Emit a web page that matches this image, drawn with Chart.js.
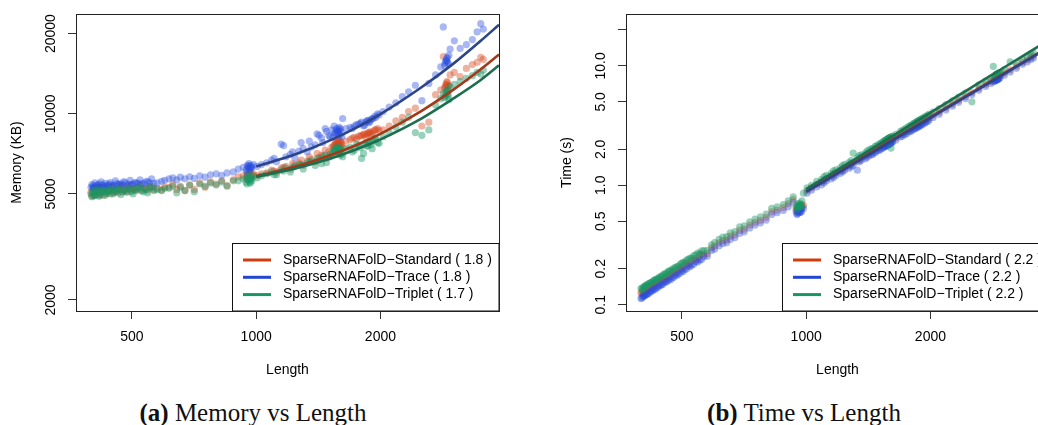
<!DOCTYPE html>
<html>
<head>
<meta charset="utf-8">
<title>Memory and Time vs Length</title>
<script src="https://cdn.jsdelivr.net/npm/chart.js@4.4.1/dist/chart.umd.min.js"></script>
<style>
    html, body { margin: 0; padding: 0; background: #fff; overflow: hidden; }
    body { width: 1038px; height: 425px; position: relative; }
    .panel { position: absolute; top: 0; }
    #memPanel { left: 0; }
    #timePanel { left: 520px; }
    .caption {
        position: absolute;
        top: 400px;
        font-family: 'Liberation Serif', 'Times New Roman', serif;
        font-size: 25px;
        line-height: 25px;
        white-space: nowrap;
        transform: translateX(-50%);
        color: #111;
    }
</style>
</head>
<body>
<div class="panel" id="memPanel"><canvas id="memoryChart" width="520" height="390"></canvas></div>
<div class="panel" id="timePanel"><canvas id="timeChart" width="550" height="390"></canvas></div>
<div class="caption" style="left:253px"><b>(a)</b> Memory vs Length</div>
<div class="caption" style="left:804px"><b>(b)</b> Time vs Length</div>

<script>
// Sequence lengths (shared by both panels)
const lengths = [
    398, 402, 405, 409, 413, 418, 423, 428, 434, 440, 446, 452, 459, 466, 474, 482, 490, 499, 508, 518, 528, 540, 552, 565,
    576, 590, 600,
    615, 628, 642, 655, 672, 690, 708, 730, 752, 775, 800, 825, 850, 880,
    905, 930, 945, 952, 958, 963, 968, 974, 985,
    1005, 1030, 1060, 1090, 1120, 1150, 1180, 1210, 1240, 1270, 1300, 1330, 1360, 1390, 1420, 1450, 1480, 1510,
    1535, 1550, 1562, 1572, 1580, 1588, 1596, 1605, 1620,
    1650, 1690, 1730, 1770, 1800, 1830, 1855, 1875, 1895, 1920, 1950, 1985,
    2030, 2100, 2180, 2260, 2340, 2430, 2520, 2620, 2720,
    2800, 2840, 2870, 2890, 2905, 2920, 2950,
    3020, 3120, 3230, 3340, 3430, 3500, 3550
];
// more sequences in the crowded stretches
const lengthsExtra = [
    400, 404, 407, 411, 416, 421, 426, 431, 437, 443, 449, 456, 463, 470, 478, 486, 495, 503, 513, 523, 534, 546, 558,
    950, 955, 960, 965, 970, 976,
    1105, 1165, 1225, 1285, 1345, 1405, 1440, 1470, 1500, 1525, 1545, 1558, 1568, 1576, 1584, 1592, 1600, 1612,
    1710, 1750, 1790, 1820, 1845, 1865, 1885, 1910, 1940, 1970,
    2860, 2880, 2895, 2910, 2930
];

// Memory (KB)
const memStandard = [
    5080, 5150, 4950, 5100, 5180, 4980, 5120, 5200, 5050, 5150, 5220, 5100, 5180, 5250, 5120, 5200, 5280, 5150, 5220, 5300, 5180, 5250, 5320, 5200,
    5250, 5180, 5300,
    5300, 5450, 5200, 5350, 5150, 5400, 5200, 5500, 5300, 5550, 5450, 5600, 5380, 5650,
    5800, 5850, 5750, 5900, 5820, 5950, 5780, 5880, 5950,
    5850, 5950, 6000, 6150, 6050, 6250, 6350, 6200, 6450, 6550, 6400, 6650, 6750, 6600, 6850, 6950, 6800, 7050,
    7500, 7650, 7800, 7550, 7700, 7900, 7600, 7750, 7450,
    7900, 8000, 8150, 8250, 8300, 8400, 8350, 8500, 8450, 8600, 8700, 8650,
    8700, 9000, 9400, 9700, 10200, 10500, 9000, 9300, 11800,
    12300, 16400, 12600, 12800, 13100, 12700, 14000,
    14300, 13800, 14800, 15300, 15600, 16300, 16000
];
const memStandardExtra = [
    4920, 5250, 5050, 4980, 5300, 5080, 4950, 5280, 5150, 5000, 5320, 5120, 5050, 5350, 5200, 5100, 5380, 5220, 5150, 5400, 5250, 5180, 5350,
    5700, 5950, 5800, 6050, 5750, 5900,
    6100, 6300, 6500, 6700, 6900, 7100, 7000, 7300, 7200, 7500, 7600, 7900, 7700, 7800, 7950, 7650, 7850, 7700,
    8100, 8050, 8250, 8350, 8200, 8450, 8550, 8400, 8700, 8800,
    12500, 12900, 13200, 12400, 12800
];
const memTrace = [
    5300, 5350, 5280, 5380, 5400, 5320, 5420, 5380, 5350, 5450, 5400, 5380, 5470, 5420, 5400, 5500, 5450, 5420, 5520, 5480, 5450, 5550, 5500, 5480,
    5500, 5580, 5620,
    5700, 5750, 5650, 5780, 5700, 5800, 5720, 5850, 5780, 5900, 5950, 5880, 6000, 6050,
    6200, 6300, 6150, 6400, 6250, 6350, 6180, 6300, 6450,
    6350, 6450, 6550, 6700, 6600, 7700, 6900, 7050, 6850, 7250, 7400, 7200, 7500, 7650, 8300, 7800, 8600, 8200,
    8200, 8500, 8700, 8400, 8600, 8900, 8300, 8550, 9600,
    8800, 8900, 9000, 9150, 9300, 9050, 9400, 9250, 9500, 9600, 9700, 9900,
    10200, 10600, 11000, 11600, 12100, 12800, 11200, 13000, 14000,
    15000, 21200, 15500, 15800, 16300, 15400, 17500,
    18800, 17600, 18200, 19000, 20300, 21800, 20800
];
const memTraceExtra = [
    5420, 5250, 5500, 5300, 5450, 5550, 5300, 5480, 5380, 5520, 5350, 5600, 5420, 5480, 5560, 5380, 5620, 5450, 5500, 5650, 5480, 5580, 5700,
    6050, 6350, 6500, 6200, 6400, 6300,
    6800, 7600, 7200, 7800, 7900, 8400, 8100, 8800, 8300, 8700, 9000, 8400, 8800, 8600, 8500, 8700, 8800, 8200,
    8800, 9100, 9200, 9000, 9300, 9450, 9350, 9600, 9800, 10000,
    15200, 15800, 16100, 15600, 16600
];
const memTriplet = [
    5000, 5080, 4920, 5050, 5120, 4950, 5100, 5150, 5020, 5100, 5180, 5050, 5120, 5200, 5080, 5150, 5230, 5100, 5170, 5250, 5130, 5200, 5270, 5150,
    5200, 5150, 5250,
    5250, 5350, 5050, 5300, 5150, 5400, 5100, 5450, 5350, 5500, 5400, 5550, 5350, 5600,
    5600, 5700, 5550, 5800, 5650, 5750, 5500, 5700, 5850,
    5750, 5850, 5950, 6050, 5900, 6150, 6250, 6050, 6350, 6450, 6200, 6550, 6650, 6400, 6750, 6850, 6550, 6900,
    7150, 7300, 7400, 7100, 7250, 7450, 7000, 7300, 6900,
    7400, 7500, 7300, 7600, 6800, 7700, 7550, 7800, 7650, 7900, 8000, 7750,
    8200, 8500, 8900, 9300, 9700, 8500, 8300, 8700, 10800,
    11400, 11900, 11600, 12000, 12300, 11700, 12600,
    12900, 13200, 13600, 13900, 14300, 14100, 14600
];
const memTripletExtra = [
    4880, 5150, 4950, 5200, 4900, 5050, 5180, 4950, 5100, 5220, 5000, 5150, 5250, 4980, 5180, 5080, 5250, 5000, 5200, 5300, 5100, 5050, 5280,
    5450, 5650, 5900, 5550, 5750, 5600,
    5900, 6100, 6300, 6450, 6600, 6800, 6500, 7000, 6900, 7100, 7350, 7200, 7500, 7300, 7400, 7200, 7350, 7050,
    7200, 7700, 7450, 7100, 7800, 7600, 7900, 7400, 8100, 7800,
    11500, 11800, 12200, 11900, 11300
];

// Time (s)
const timeStandard = [
    0.125, 0.122, 0.130, 0.129, 0.136, 0.135, 0.143, 0.142, 0.152, 0.150, 0.162, 0.160, 0.172, 0.171, 0.185, 0.183, 0.198, 0.199, 0.216, 0.215, 0.234, 0.236, 0.258, 0.262,
    0.268, 0.300, 0.310,
    0.330, 0.345, 0.348, 0.375, 0.385, 0.420, 0.430, 0.465, 0.490, 0.510, 0.540, 0.600, 0.620, 0.650,
    0.700, 0.760, 0.640, 0.620, 0.650, 0.630, 0.660, 0.640, 0.680,
    0.90, 0.95, 1.02, 1.06, 1.14, 1.19, 1.27, 1.32, 1.41, 1.46, 1.55, 1.60, 1.70, 1.75, 1.86, 1.91, 2.02, 2.08,
    2.15, 2.22, 2.24, 2.28, 2.30, 2.33, 2.35, 2.37, 2.43,
    2.50, 2.65, 2.76, 2.92, 3.00, 3.12, 3.19, 3.27, 3.33, 3.44, 3.53, 3.68,
    3.85, 4.10, 4.46, 4.78, 5.15, 5.55, 5.98, 6.50, 6.98,
    7.40, 7.65, 7.80, 7.95, 8.00, 8.10, 8.25,
    8.70, 9.25, 9.95, 10.7, 11.2, 11.8, 12.1
];
const timeStandardExtra = [
    0.128, 0.124, 0.133, 0.130, 0.139, 0.137, 0.147, 0.145, 0.156, 0.153, 0.165, 0.163, 0.177, 0.174, 0.190, 0.187, 0.205, 0.203, 0.222, 0.220, 0.243, 0.243, 0.266,
    0.60, 0.66, 0.62, 0.67, 0.63, 0.69,
    1.10, 1.24, 1.35, 1.51, 1.64, 1.82, 1.89, 1.99, 2.06, 2.15, 2.19, 2.25, 2.26, 2.30, 2.31, 2.34, 2.36, 2.40,
    2.70, 2.84, 2.96, 3.08, 3.15, 3.24, 3.30, 3.40, 3.50, 3.62,
    7.75, 7.88, 7.95, 8.05, 8.15
];
const timeTrace = [
    0.113, 0.117, 0.119, 0.122, 0.124, 0.128, 0.131, 0.136, 0.139, 0.145, 0.147, 0.154, 0.156, 0.165, 0.168, 0.178, 0.181, 0.192, 0.197, 0.210, 0.214, 0.230, 0.236, 0.252,
    0.255, 0.284, 0.292,
    0.312, 0.325, 0.330, 0.352, 0.365, 0.395, 0.408, 0.440, 0.465, 0.485, 0.512, 0.570, 0.590, 0.615,
    0.660, 0.720, 0.600, 0.580, 0.610, 0.590, 0.620, 0.600, 0.640,
    0.86, 0.91, 0.97, 1.01, 1.09, 1.13, 1.21, 1.26, 1.34, 1.39, 1.47, 1.34, 1.62, 1.67, 1.77, 1.82, 1.93, 1.99,
    2.06, 2.12, 2.14, 2.18, 2.20, 2.23, 2.25, 2.27, 2.32,
    2.40, 2.54, 2.65, 2.80, 2.88, 2.99, 3.06, 3.14, 3.20, 3.30, 3.39, 3.53,
    3.70, 3.94, 4.28, 4.60, 4.95, 5.33, 5.75, 6.24, 6.72,
    7.12, 7.35, 7.50, 7.62, 7.70, 7.78, 7.95,
    8.35, 8.90, 9.55, 10.3, 10.8, 11.3, 11.6
];
const timeTraceExtra = [
    0.114, 0.118, 0.120, 0.121, 0.125, 0.129, 0.133, 0.135, 0.140, 0.144, 0.148, 0.154, 0.159, 0.163, 0.170, 0.176, 0.184, 0.190, 0.199, 0.208, 0.218, 0.228, 0.239,
    0.57, 0.62, 0.59, 0.63, 0.60, 0.65,
    1.05, 1.17, 1.30, 1.43, 1.57, 1.72, 1.81, 1.88, 1.96, 2.03, 2.09, 2.12, 2.15, 2.17, 2.20, 2.22, 2.24, 2.28,
    2.57, 2.69, 2.82, 2.92, 3.00, 3.07, 3.14, 3.22, 3.33, 3.43,
    7.45, 7.55, 7.65, 7.72, 7.82
];
const timeTriplet = [
    0.136, 0.133, 0.142, 0.146, 0.148, 0.152, 0.155, 0.160, 0.163, 0.168, 0.172, 0.180, 0.182, 0.190, 0.196, 0.205, 0.210, 0.222, 0.228, 0.240, 0.246, 0.262, 0.268, 0.284,
    0.285, 0.318, 0.332,
    0.352, 0.368, 0.372, 0.400, 0.410, 0.448, 0.458, 0.495, 0.520, 0.545, 0.575, 0.640, 0.660, 0.690,
    0.740, 0.800, 0.670, 0.650, 0.680, 0.660, 0.690, 0.670, 0.860,
    0.95, 1.00, 1.08, 1.12, 1.21, 1.26, 1.35, 1.40, 1.50, 1.55, 1.86, 1.70, 1.80, 1.86, 1.98, 2.03, 2.14, 2.21,
    2.29, 2.36, 2.38, 2.42, 2.45, 2.48, 2.50, 2.05, 2.58,
    2.67, 2.82, 2.94, 3.10, 3.20, 3.32, 3.40, 3.48, 3.55, 3.66, 3.76, 3.92,
    4.10, 4.38, 4.75, 5.10, 5.48, 5.92, 5.00, 6.95, 7.45,
    7.90, 9.90, 8.30, 8.45, 8.55, 8.60, 8.80,
    9.30, 10.8, 10.6, 11.4, 12.0, 12.6, 12.9
];
const timeTripletExtra = [
    0.138, 0.140, 0.142, 0.145, 0.150, 0.153, 0.158, 0.162, 0.166, 0.172, 0.176, 0.183, 0.190, 0.195, 0.203, 0.209, 0.218, 0.226, 0.236, 0.246, 0.258, 0.270, 0.282,
    0.63, 0.70, 0.66, 0.71, 0.67, 0.74,
    1.18, 1.32, 1.46, 1.61, 1.77, 1.93, 2.03, 2.12, 2.21, 2.29, 2.35, 2.39, 2.42, 2.45, 2.47, 2.50, 2.52, 2.56,
    2.89, 3.03, 3.18, 3.29, 3.38, 3.46, 3.53, 3.63, 3.75, 3.87,
    8.25, 8.40, 8.50, 8.60, 8.75
];

// Fitted curves
const fitLengths = [1000, 1250, 1500, 1750, 2000, 2500, 3000, 3500, 3875];
const memFitStandard = [5840, 6350, 6960, 7640, 8410, 10200, 12300, 14700, 16700];
const memFitTrace = [6340, 7060, 7910, 8880, 9970, 12500, 15400, 18800, 21600];
const memFitTriplet = [5800, 6240, 6760, 7360, 8020, 9560, 11400, 13400, 15200];
const timeFitStandard = [0.90, 1.42, 2.07, 2.83, 3.73, 5.89, 8.56, 11.7, 14.5];
const timeFitTrace = [0.88, 1.39, 2.03, 2.79, 3.67, 5.81, 8.46, 11.6, 14.3];
const timeFitTriplet = [0.93, 1.49, 2.20, 3.05, 4.06, 6.52, 9.60, 13.3, 16.5];

// Axis ticks
const lengthTicks = [500, 1000, 2000];
const memTicks = [2000, 5000, 10000, 20000];
const memTickLabels = ['2000', '5000', '10000', '20000'];
const timeTicks = [0.1, 0.2, 0.5, 1, 2, 5, 10, 20];
const timeTickLabels = ['0.1', '0.2', '0.5', '1.0', '2.0', '5.0', '10.0', ''];

const memLegend = ['SparseRNAFolD\u2212Standard ( 1.8 )', 'SparseRNAFolD\u2212Trace ( 1.8 )', 'SparseRNAFolD\u2212Triplet ( 1.7 )'];
const timeLegend = ['SparseRNAFolD\u2212Standard ( 2.2 )', 'SparseRNAFolD\u2212Trace ( 2.2 )', 'SparseRNAFolD\u2212Triplet ( 2.2 )'];

const seriesKeys = ['standard', 'trace', 'triplet'];
const colors = {
    standard: { point: 'rgba(214, 72, 30, 0.42)', line: '#a3391b', key: '#d13c0f' },
    trace: { point: 'rgba(40, 78, 222, 0.40)', line: '#2c4489', key: '#2346d2' },
    triplet: { point: 'rgba(22, 150, 100, 0.44)', line: '#1d6e4e', key: '#199664' }
};

const FONT = '"Liberation Sans", Arial, sans-serif';
Chart.defaults.font.family = FONT;
Chart.defaults.font.size = 14;
Chart.defaults.color = '#000';

function toPoints(xs, ys) {
    return xs.map((x, i) => ({ x: x, y: ys[i] }));
}

// Box around the plot region, like R's bty="o"
const frame = {
    id: 'frame',
    afterDraw(chart) {
        const { ctx, chartArea: a } = chart;
        ctx.save();
        ctx.strokeStyle = '#222';
        ctx.lineWidth = 1;
        ctx.strokeRect(Math.round(a.left) + 0.5, Math.round(a.top) + 0.5,
            Math.round(a.right - a.left), Math.round(a.bottom - a.top));
        ctx.restore();
    }
};

// Legend drawn in the bottom-right corner of the plot region
const boxLegend = {
    id: 'boxLegend',
    afterDatasetsDraw(chart, args, opts) {
        const { ctx, chartArea: a } = chart;
        const left = Math.round(a.right - 267) + 0.5;
        const top = Math.round(a.bottom - 68) + 0.5;
        ctx.save();
        ctx.fillStyle = '#fff';
        ctx.fillRect(left, top, a.right - left, a.bottom - top);
        ctx.strokeStyle = '#111';
        ctx.lineWidth = 1;
        ctx.strokeRect(left, top, a.right - left, a.bottom - top);
        ctx.font = '14px ' + FONT;
        ctx.textBaseline = 'middle';
        ctx.textAlign = 'left';
        opts.items.forEach((item, i) => {
            const y = a.bottom - 51 + i * 17.3;
            ctx.strokeStyle = item.color;
            ctx.lineWidth = 3;
            ctx.beginPath();
            ctx.moveTo(a.right - 256, y);
            ctx.lineTo(a.right - 228, y);
            ctx.stroke();
            ctx.fillStyle = '#000';
            ctx.fillText(item.text, a.right - 216, y);
        });
        ctx.restore();
    }
};

function makeDatasets(ys, extras, fits) {
    const allLengths = lengths.concat(lengthsExtra);
    const sets = [];
    // scatter points: red below, then blue, green on top
    seriesKeys.forEach((k, i) => {
        sets.push({
            data: toPoints(allLengths, ys[i].concat(extras[i])),
            backgroundColor: colors[k].point,
            borderWidth: 0,
            pointRadius: 3.6,
            order: 10 - i
        });
    });
    seriesKeys.forEach((k, i) => {
        sets.push({
            data: toPoints(fitLengths, fits[i]),
            showLine: true,
            borderColor: colors[k].line,
            borderWidth: 2.6,
            pointRadius: 0,
            cubicInterpolationMode: 'monotone',
            order: 3 - i
        });
    });
    return sets;
}

function makeChart(canvasId, cfg) {
    const ctx = document.getElementById(canvasId);
    if (!ctx) return;

    new Chart(ctx, {
        type: 'scatter',
        data: { datasets: makeDatasets(cfg.ys, cfg.extras, cfg.fits) },
        options: {
            responsive: false,
            animation: false,
            events: [],
            layout: { padding: { left: 0, top: 14, right: 21, bottom: 0 } },
            plugins: {
                legend: { display: false },
                tooltip: { enabled: false },
                boxLegend: { items: cfg.legend.map((t, i) => ({ text: t, color: colors[seriesKeys[i]].key })) }
            },
            scales: {
                x: {
                    type: 'logarithmic',
                    bounds: 'data',
                    min: 366,
                    max: 3875,
                    afterBuildTicks: s => { s.ticks = lengthTicks.map(v => ({ value: v })); },
                    afterFit: s => { s.height = 79; },
                    ticks: {
                        autoSkip: false,
                        minRotation: 0,
                        maxRotation: 0,
                        padding: 10,
                        callback: v => String(v)
                    },
                    grid: { drawOnChartArea: false, tickLength: 8, color: '#333', tickWidth: 1 },
                    border: { display: true, color: '#222' },
                    title: { display: true, text: 'Length', padding: { top: 0, bottom: 11.6 } }
                },
                y: {
                    type: 'logarithmic',
                    bounds: 'data',
                    min: cfg.yMin,
                    max: cfg.yMax,
                    afterBuildTicks: s => { s.ticks = cfg.yTicks.map(v => ({ value: v })); },
                    afterFit: s => { s.width = cfg.yWidth; },
                    ticks: {
                        autoSkip: false,
                        minRotation: 90,
                        maxRotation: 90,
                        crossAlign: 'center',
                        padding: cfg.yPad,
                        callback: (v, i) => cfg.yLabels[i]
                    },
                    grid: { drawOnChartArea: false, tickLength: 8, color: '#333', tickWidth: 1 },
                    border: { display: true, color: '#222' },
                    title: { display: true, text: cfg.yTitle, padding: { top: cfg.yTitlePad, bottom: 0 } }
                }
            }
        },
        plugins: [frame, boxLegend]
    });
}

document.addEventListener('DOMContentLoaded', function() {
    makeChart('memoryChart', {
        ys: [memStandard, memTrace, memTriplet],
        extras: [memStandardExtra, memTraceExtra, memTripletExtra],
        fits: [memFitStandard, memFitTrace, memFitTriplet],
        legend: memLegend,
        yMin: 1818,
        yMax: 23700,
        yTicks: memTicks,
        yLabels: memTickLabels,
        yTitle: 'Memory (KB)',
        yWidth: 76,
        yPad: -2.5,
        yTitlePad: 8.3
    });

    makeChart('timeChart', {
        ys: [timeStandard, timeTrace, timeTriplet],
        extras: [timeStandardExtra, timeTraceExtra, timeTripletExtra],
        fits: [timeFitStandard, timeFitTrace, timeFitTriplet],
        legend: timeLegend,
        yMin: 0.0886,
        yMax: 27.2,
        yTicks: timeTicks,
        yLabels: timeTickLabels,
        yTitle: 'Time (s)',
        yWidth: 106,
        yPad: 3.4,
        yTitlePad: 38.6
    });
});
</script>
</body>
</html>
